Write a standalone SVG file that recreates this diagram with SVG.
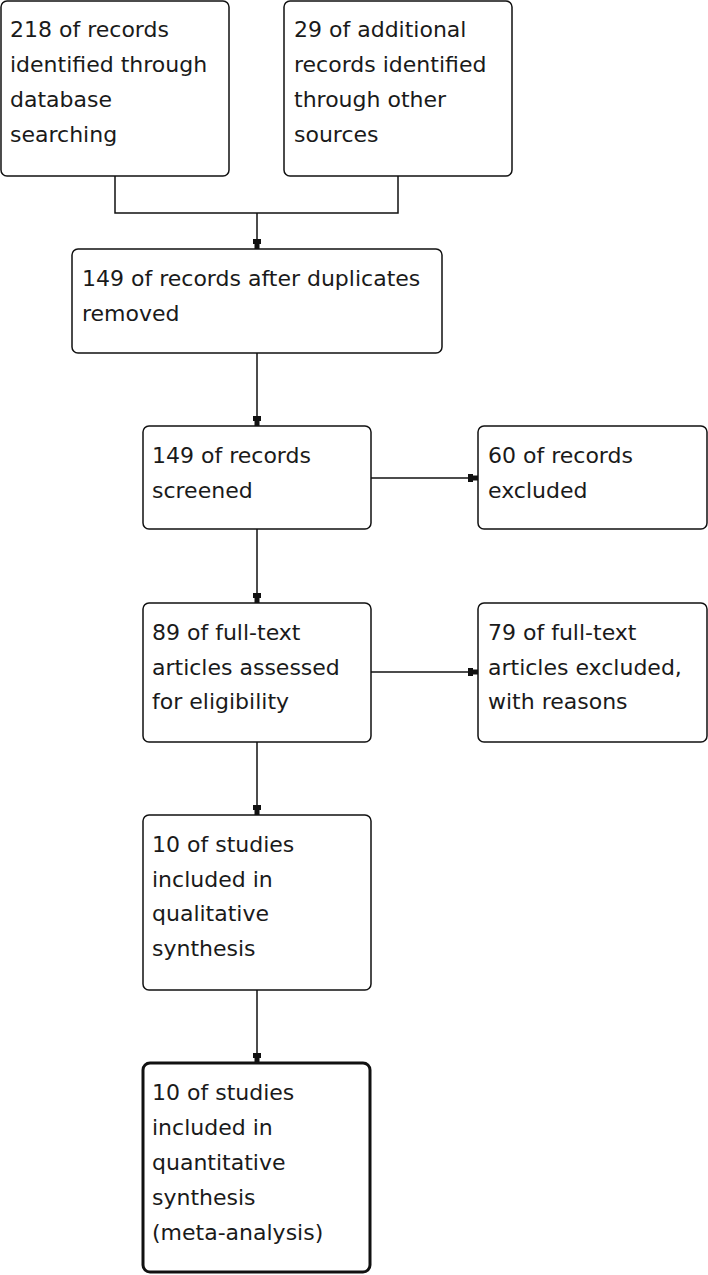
<svg xmlns="http://www.w3.org/2000/svg" width="708" height="1275" viewBox="0 0 708 1275">
<style>
.box{fill:#fff;stroke:#111;stroke-width:1.5}
.thick{stroke-width:3}
text{font-family:"DejaVu Sans","Liberation Sans",sans-serif;font-size:22px;fill:#1a1a1a}
.c{fill:none;stroke:#111;stroke-width:1.5}
</style>
<defs>
<marker id="ah" markerUnits="userSpaceOnUse" markerWidth="12" markerHeight="12" viewBox="0 -6 12 12" refX="10" refY="0" orient="auto">
<path d="M0,-4 L5,-4 L5,-2.5 L10,-2.5 L10,2.5 L5,2.5 L5,4 L0,4 Z" fill="#111"/>
</marker>
</defs>
<rect width="708" height="1275" fill="#fff"/>
<g id="connectors">
<path class="c" d="M115,176 V213 H398 V176"/>
<path class="c" d="M257,213 V249" marker-end="url(#ah)"/>
<path class="c" d="M257,353 V426" marker-end="url(#ah)"/>
<path class="c" d="M371,478 H478" marker-end="url(#ah)"/>
<path class="c" d="M257,529 V603" marker-end="url(#ah)"/>
<path class="c" d="M371,672 H478" marker-end="url(#ah)"/>
<path class="c" d="M257,742 V815" marker-end="url(#ah)"/>
<path class="c" d="M257,990 V1063" marker-end="url(#ah)"/>
</g>
<g id="n1"><rect class="box" x="1" y="1" width="228" height="175" rx="6"/>
<text x="10" y="37">218 of records</text><text x="10" y="72">identified through</text><text x="10" y="107">database</text><text x="10" y="142">searching</text></g>
<g id="n2"><rect class="box" x="284" y="1" width="228" height="175" rx="6"/>
<text x="294" y="37">29 of additional</text><text x="294" y="72">records identified</text><text x="294" y="107">through other</text><text x="294" y="142">sources</text></g>
<g id="n3"><rect class="box" x="72" y="249" width="370" height="104" rx="6"/>
<text x="82" y="286">149 of records after duplicates</text><text x="82" y="321">removed</text></g>
<g id="n4"><rect class="box" x="143" y="426" width="228" height="103" rx="6"/>
<text x="152" y="463">149 of records</text><text x="152" y="498">screened</text></g>
<g id="n5"><rect class="box" x="478" y="426" width="229" height="103" rx="6"/>
<text x="488" y="463">60 of records</text><text x="488" y="498">excluded</text></g>
<g id="n6"><rect class="box" x="143" y="603" width="228" height="139" rx="6"/>
<text x="152" y="640">89 of full-text</text><text x="152" y="675">articles assessed</text><text x="152" y="709">for eligibility</text></g>
<g id="n7"><rect class="box" x="478" y="603" width="229" height="139" rx="6"/>
<text x="488" y="640">79 of full-text</text><text x="488" y="675">articles excluded,</text><text x="488" y="709">with reasons</text></g>
<g id="n8"><rect class="box" x="143" y="815" width="228" height="175" rx="6"/>
<text x="152" y="852">10 of studies</text><text x="152" y="887">included in</text><text x="152" y="921">qualitative</text><text x="152" y="956">synthesis</text></g>
<g id="n9"><rect class="box thick" x="143" y="1063" width="227" height="209" rx="7"/>
<text x="152" y="1100">10 of studies</text><text x="152" y="1135">included in</text><text x="152" y="1170">quantitative</text><text x="152" y="1205">synthesis</text><text x="152" y="1240">(meta-analysis)</text></g>
</svg>
